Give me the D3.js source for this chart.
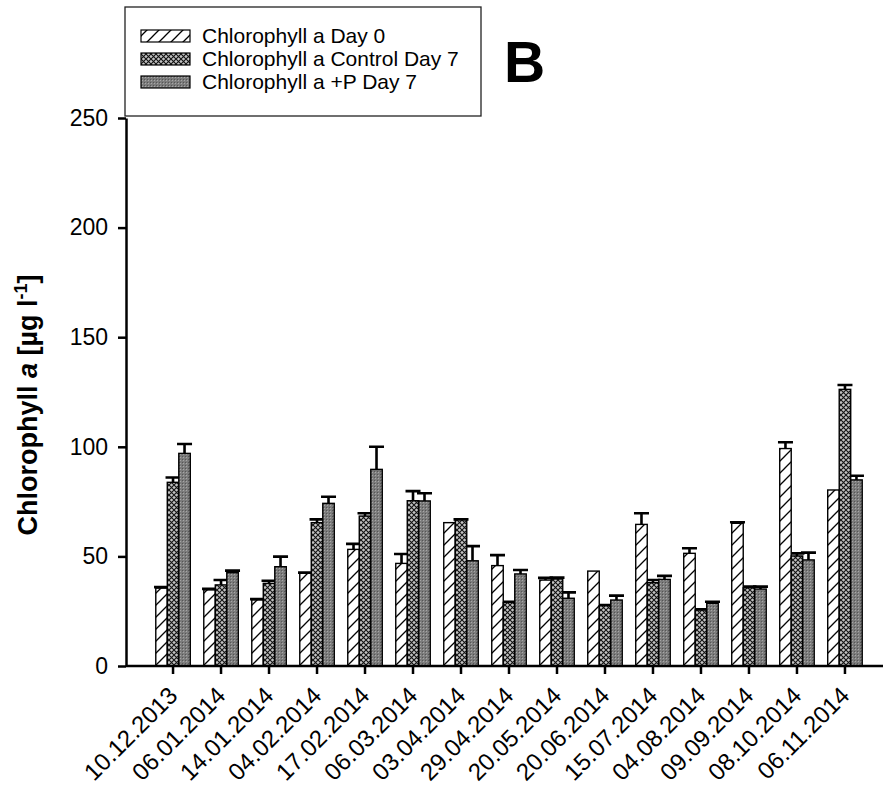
<!DOCTYPE html>
<html>
<head>
<meta charset="utf-8">
<script src="https://cdn.jsdelivr.net/npm/d3@7"></script>
<style>
  body { margin: 0; background: #fff; }
  text { font-family: Arial, "Liberation Sans", sans-serif; }
</style>
</head>
<body>
<div class="canvas"></div>
<script>
// sampling dates
const dates = ['10.12.2013','06.01.2014','14.01.2014','04.02.2014','17.02.2014','06.03.2014','03.04.2014',
               '29.04.2014','20.05.2014','20.06.2014','15.07.2014','04.08.2014','09.09.2014','08.10.2014','06.11.2014']

const seriesNames = ['Chlorophyll a Day 0', 'Chlorophyll a Control Day 7', 'Chlorophyll a +P Day 7']

const day0       = [35.5, 34.7, 30.1, 42.3, 53.2, 46.8, 65.4, 45.8, 39.2, 43.3, 64.6, 51.4, 65.1, 99.2, 80.3]
const day0Err    = [0.5, 0.5, 0.4, 0.3, 2.5, 4.3, 0, 4.8, 1.0, 0, 5.1, 2.3, 0.5, 2.9, 0]
const control    = [83.8, 37.0, 37.7, 65.4, 68.4, 75.4, 66.6, 29.0, 39.7, 27.5, 38.0, 25.5, 35.7, 50.2, 126.2]
const controlErr = [2.2, 2.2, 1.2, 1.5, 1.3, 4.4, 0.3, 0.3, 0.6, 0.3, 1.2, 0.4, 0.5, 1.2, 2.0]
const plusP      = [97.0, 42.6, 45.3, 74.2, 89.7, 75.3, 48.0, 42.0, 30.9, 30.1, 39.5, 28.6, 35.1, 48.4, 84.9]
const plusPErr   = [4.3, 0.9, 4.6, 3.0, 10.3, 3.5, 6.7, 1.8, 2.7, 2.0, 1.6, 0.7, 1.1, 3.3, 1.9]

const yTicks = [0, 50, 100, 150, 200, 250]

const values = [day0, control, plusP]
const errors = [day0Err, controlErr, plusPErr]
const fills = ['url(#hatch)', 'url(#cross)', 'url(#dots)']

const svg = d3.select('.canvas')
              .append('svg')
              .attr('width', 883)
              .attr('height', 791)

// patterns
const defs = svg.append('defs')
const hatch = defs.append('pattern').attr('id', 'hatch')
  .attr('patternUnits', 'userSpaceOnUse').attr('width', 12).attr('height', 12)
hatch.append('rect').attr('width', 12).attr('height', 12).attr('fill', 'white')
hatch.append('path').attr('d', 'M-3,3 L3,-3 M0,12 L12,0 M9,15 L15,9')
  .attr('stroke', 'black').attr('stroke-width', 1.3)

const cross = defs.append('pattern').attr('id', 'cross')
  .attr('patternUnits', 'userSpaceOnUse').attr('width', 5).attr('height', 5)
cross.append('rect').attr('width', 5).attr('height', 5).attr('fill', '#c4c4c4')
cross.append('path').attr('d', 'M0,0 L5,5 M5,0 L0,5')
  .attr('stroke', '#111').attr('stroke-width', 1.1)

const dots = defs.append('pattern').attr('id', 'dots')
  .attr('patternUnits', 'userSpaceOnUse').attr('width', 3).attr('height', 3)
dots.append('rect').attr('width', 3).attr('height', 3).attr('fill', '#7c7c7c')
dots.append('rect').attr('x', 1).attr('y', 1).attr('width', 1).attr('height', 1).attr('fill', '#a8a8a8')
dots.append('rect').attr('x', 0).attr('y', 0).attr('width', 1).attr('height', 1).attr('fill', '#555')

const plotLeft = 126, plotTop = 118, plotBottom = 666

const x0 = d3.scaleBand().domain(dates).range([plotLeft, 892]).paddingInner(0).paddingOuter(0.48)
const x1 = d3.scaleBand().domain([0, 1, 2]).range([x0.bandwidth() / 2 - 17.25, x0.bandwidth() / 2 + 17.25])
const y = d3.scaleLinear().domain([0, 250]).range([plotBottom, plotTop])

// bars
const groups = svg.append('g').selectAll('g')
  .data(dates)
  .enter().append('g')
  .attr('transform', d => `translate(${x0(d)},0)`)

const rows = dates.map((d, i) => values.map((v, s) => ({s, v: v[i], e: errors[s][i]})))

groups.each(function(d, i) {
  const g = d3.select(this)
  g.selectAll('path.err').data(rows[i].filter(r => r.e > 0))
    .enter().append('path')
    .attr('class', 'err')
    .attr('d', r => {
      const cx = x1(r.s) + x1.bandwidth() / 2
      return `M${cx},${y(r.v)} V${y(r.v + r.e)} M${cx - 7.5},${y(r.v + r.e)} H${cx + 7.5}`
    })
    .attr('stroke', 'black').attr('stroke-width', 2.6).attr('fill', 'none')
  g.selectAll('rect').data(rows[i])
    .enter().append('rect')
    .attr('x', r => x1(r.s))
    .attr('width', x1.bandwidth())
    .attr('y', r => y(r.v))
    .attr('height', r => y(0) - y(r.v))
    .attr('fill', r => fills[r.s])
    .attr('stroke', 'black')
    .attr('stroke-width', 1.4)
})

// axes
const yAxis = svg.append('g').attr('transform', `translate(${plotLeft},0)`)
  .call(d3.axisLeft(y).tickValues(yTicks).tickSize(8).tickSizeOuter(0).tickPadding(10))
yAxis.selectAll('text').style('font-size', '23px').attr('fill', 'black')
yAxis.selectAll('line, path').attr('stroke', 'black').attr('stroke-width', 2.5)

const xAxis = svg.append('g').attr('transform', `translate(0,${plotBottom})`)
  .call(d3.axisBottom(x0).tickSize(8).tickSizeOuter(0))
xAxis.select('.domain').attr('d', `M${plotLeft},0 H892`)
xAxis.selectAll('line, path').attr('stroke', 'black').attr('stroke-width', 2.5)
xAxis.selectAll('text')
  .style('font-size', '24px').attr('fill', 'black')
  .style('text-anchor', 'end')
  .attr('x', 0).attr('y', 0).attr('dy', 0)
  .attr('transform', 'translate(6,31) rotate(-45)')

// y title
const yTitle = svg.append('text')
  .attr('transform', 'translate(37,405) rotate(-90)')
  .attr('text-anchor', 'middle')
  .style('font-size', '27px').style('font-weight', 'bold')
yTitle.append('tspan').text('Chlorophyll ')
yTitle.append('tspan').style('font-style', 'italic').text('a')
yTitle.append('tspan').text(' [µg l')
yTitle.append('tspan').attr('dy', -10).style('font-size', '18px').text('-1')
yTitle.append('tspan').attr('dy', 10).text(']')

// panel letter
svg.append('text').attr('x', 504).attr('y', 82)
  .style('font-size', '57px').style('font-weight', 'bold').text('B')

// legend
const legend = svg.append('g')
legend.append('rect').attr('x', 125).attr('y', 7).attr('width', 356).attr('height', 109)
  .attr('fill', 'white').attr('stroke', '#222').attr('stroke-width', 1.3)
const items = legend.selectAll('g.item').data(seriesNames)
  .enter().append('g').attr('class', 'item')
  .attr('transform', (d, i) => `translate(141,${36 + i * 23})`)
items.append('rect').attr('y', -6).attr('width', 49).attr('height', 12)
  .attr('fill', (d, i) => fills[i]).attr('stroke', 'black').attr('stroke-width', 1.2)
items.append('text').attr('x', 61).attr('dy', '0.35em')
  .style('font-size', '21px').text(d => d)
</script>
</body>
</html>
